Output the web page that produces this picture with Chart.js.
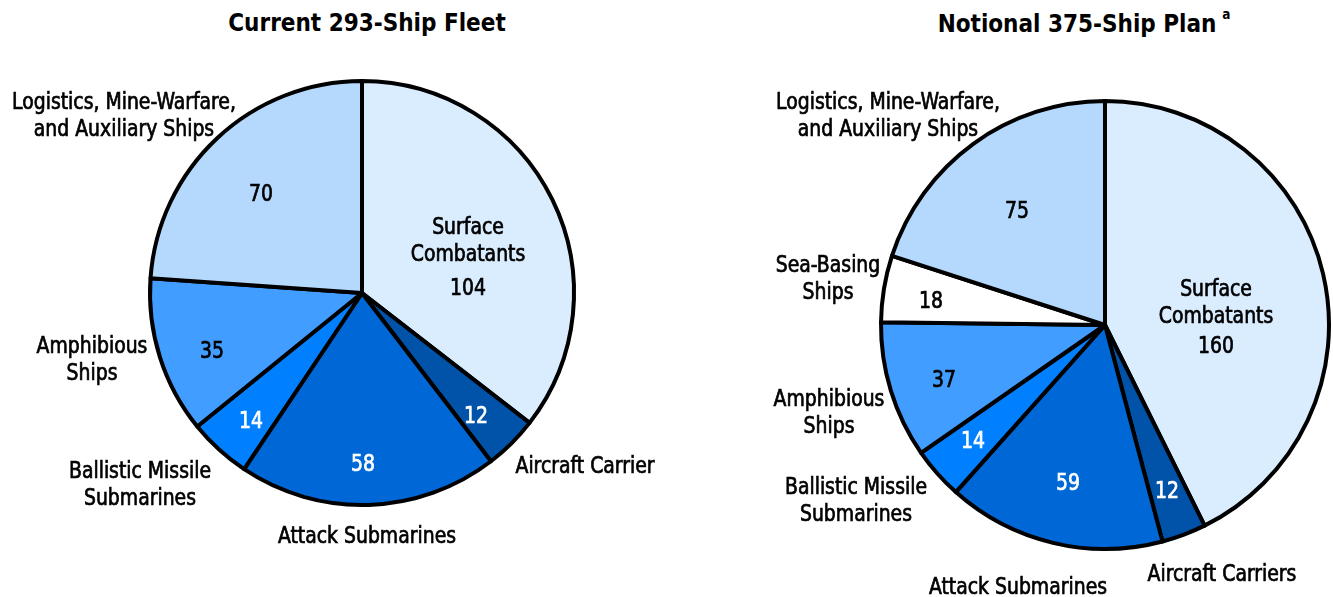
<!DOCTYPE html>
<html>
<head>
<meta charset="utf-8">
<script src="https://cdn.jsdelivr.net/npm/chart.js@4"></script>
<style>
  html, body { margin: 0; padding: 0; background: #fff; }
  body { width: 1333px; height: 597px; position: relative; overflow: hidden; }
  .box { position: absolute; }
  .title { position: absolute; font-family: "DejaVu Sans Condensed", "DejaVu Sans", sans-serif;
           font-weight: bold; font-size: 25px; color: #000; white-space: nowrap;
           transform: translate(-50%, -50%) scaleX(0.96); }
  .title sup { font-size: 14px; position: relative; top: -4px; margin-left: 6px; }
</style>
</head>
<body>
<div class="title" style="left:367px; top:22px;">Current 293-Ship Fleet</div>
<div class="title" style="left:1084px; top:23px;">Notional 375-Ship Plan<sup>a</sup></div>
<div class="box" style="left:0; top:0; width:733px; height:597px;"><canvas id="left"></canvas></div>
<div class="box" style="left:733px; top:0; width:600px; height:597px;"><canvas id="right"></canvas></div>
<script>
// current fleet
const currentCats = [['Surface', 'Combatants'], ['Aircraft Carrier'], ['Attack Submarines'],
  ['Ballistic Missile', 'Submarines'], ['Amphibious', 'Ships'], ['Logistics, Mine-Warfare,', 'and Auxiliary Ships']];
const currentVals = [104, 12, 58, 14, 35, 70];

// notional plan
const planCats = [['Surface', 'Combatants'], ['Aircraft Carriers'], ['Attack Submarines'],
  ['Ballistic Missile', 'Submarines'], ['Amphibious', 'Ships'], ['Sea-Basing', 'Ships'],
  ['Logistics, Mine-Warfare,', 'and Auxiliary Ships']];
const planVals = [160, 12, 59, 14, 37, 18, 75];

const colorMap = {
  'Surface': '#daedff', 'Aircraft Carrier': '#0053a8', 'Aircraft Carriers': '#0053a8',
  'Attack Submarines': '#0067d6', 'Ballistic Missile': '#0080ff', 'Amphibious': '#419dff',
  'Sea-Basing': '#ffffff', 'Logistics, Mine-Warfare,': '#b4d9fc'
};
const darkSlices = ['Aircraft Carrier', 'Aircraft Carriers', 'Attack Submarines', 'Ballistic Missile'];

// label placement, offsets from pie centre in px: [name x, name y, value x, value y]
const leftPos = [[106, -67, 106, -6], [223, 172, 114, 122], [5, 242, 1, 170],
  [-222, 177, -111, 127], [-270, 52, -150, 57], [-238, -192, -101, -100]];
const rightPos = [[111, -37, 111, 20], [117, 248, 62, 165], [-87, 261, -37, 157],
  [-249, 161, -132, 115], [-276, 73, -161, 54], [-277, -61, -174, -25], [-217, -224, -88, -115]];

const FONT = '23px "DejaVu Sans Condensed", "DejaVu Sans", sans-serif';

// narrow + slightly heavier text, closer to the original typeface
function drawText(ctx, t, x, y, color) {
  ctx.save();
  ctx.translate(x, y + 2);
  ctx.scale(0.91, 1);
  ctx.fillStyle = color;
  ctx.strokeStyle = color;
  ctx.lineWidth = 0.7;
  ctx.fillText(t, 0, 0);
  ctx.strokeText(t, 0, 0);
  ctx.restore();
}

function labelPlugin(cats, pos) {
  return {
    id: 'sliceLabels',
    afterDatasetsDraw(chart) {
      const ctx = chart.ctx;
      const arc = chart.getDatasetMeta(0).data[0];
      const cx = arc.x, cy = arc.y;
      const vals = chart.data.datasets[0].data;
      ctx.save();
      ctx.font = FONT;
      ctx.textAlign = 'center';
      ctx.textBaseline = 'middle';
      cats.forEach((lines, i) => {
        const p = pos[i];
        lines.forEach((t, k) => drawText(ctx, t, cx + p[0], cy + p[1] + k * 27, '#000'));
        const col = darkSlices.includes(lines[0]) ? '#fff' : '#000';
        drawText(ctx, String(vals[i]), cx + p[2], cy + p[3], col);
      });
      ctx.restore();
    }
  };
}

function makePie(id, cats, vals, radius, padding, pos) {
  return new Chart(document.getElementById(id), {
    type: 'pie',
    data: {
      labels: cats.map(c => c.join(' ')),
      datasets: [{
        data: vals,
        backgroundColor: cats.map(c => colorMap[c[0]]),
        borderColor: '#000',
        borderWidth: 4,
        borderJoinStyle: 'round'
      }]
    },
    options: {
      responsive: true,
      maintainAspectRatio: false,
      animation: false,
      radius: radius,
      layout: { padding: padding },
      plugins: { legend: { display: false }, tooltip: { enabled: false }, title: { display: false } }
    },
    plugins: [labelPlugin(cats, pos)]
  });
}

makePie('left', currentCats, currentVals, 212, { left: 0, right: 9, top: 0, bottom: 11 }, leftPos);
makePie('right', planCats, planVals, 224, { left: 144, right: 0, top: 53, bottom: 0 }, rightPos);
</script>
</body>
</html>
